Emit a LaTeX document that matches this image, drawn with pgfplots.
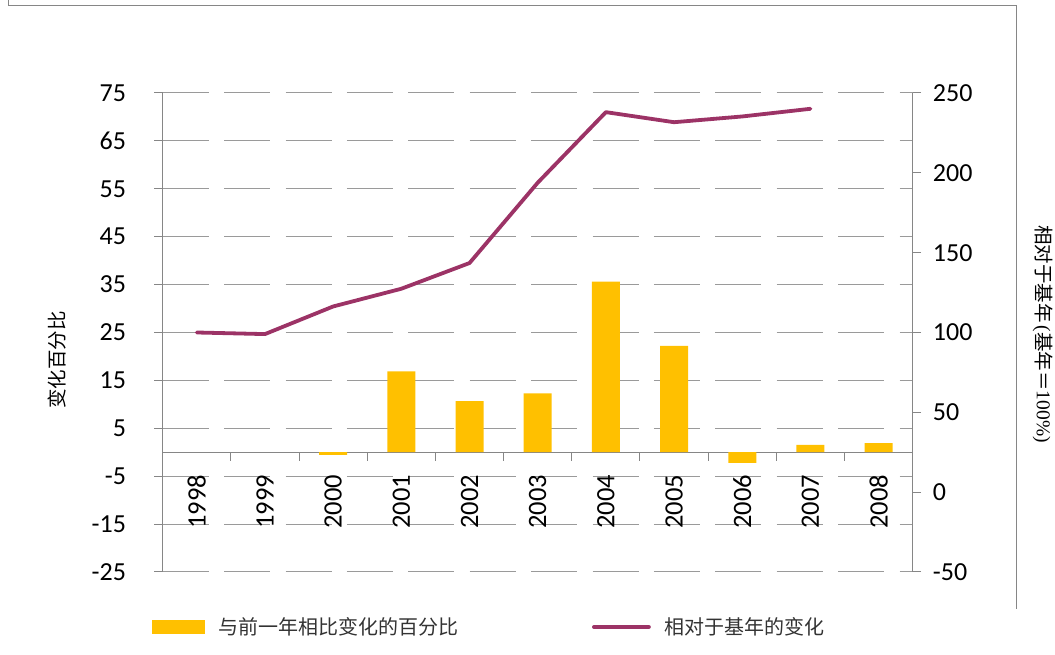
\documentclass[border=0pt]{standalone}
\usepackage{pgfplots}
\pgfplotsset{compat=1.18}
\usepackage{fontspec}
\setmainfont{Carlito}
\newfontfamily\cjk{Noto Sans CJK SC}
\newfontfamily\tnr{Liberation Serif}
\definecolor{barc}{HTML}{FFC000}
\definecolor{linec}{HTML}{9C3366}
\definecolor{axc}{HTML}{868686}
\definecolor{gridc}{HTML}{9A9A9A}
\begin{document}
\begin{tikzpicture}[x=1pt,y=1pt]
\path[use as bounding box] (0,0) rectangle (1055,655);
\draw[axc, line width=1pt] (8.3,655) -- (8.3,649.3) -- (1016.7,649.3) -- (1016.7,46);
% left axis: bars
\begin{axis}[
  at={(162.7pt,83pt)}, anchor=south west,
  scale only axis, width=750pt, height=479pt,
  xmin=-0.5, xmax=10.5, ymin=-25, ymax=75,
  axis y line*=left, axis x line*=middle,
  axis line style={axc, line width=1pt, -},
  hide obscured x ticks=false,
  xtick={-0.5,0.5,...,10.5},
  x tick label as interval,
  xticklabels={1998,1999,2000,2001,2002,2003,2004,2005,2006,2007,2008},
  xticklabel style={yshift=-14pt, rotate=90, anchor=east, inner sep=0pt, font=\fontsize{26.5}{30}\selectfont},
  ytick={-25,-15,-5,5,15,25,35,45,55,65,75},
  yticklabel style={anchor=east, inner sep=0pt, xshift=-28pt, font=\fontsize{26}{30}\selectfont},
  tick align=outside, major tick length=8.5pt,
  tick style={axc, line width=1pt},
  /pgf/number format/assume math mode=true,
  ymajorgrids,
  grid style={gridc, line width=1pt, dash pattern=on 46pt off 15.4pt},
  legend style={at={(axis description cs:-0.01427,-0.1148)}, anchor=west,
    draw=none, fill=none, inner sep=0pt, outer sep=0pt,
    nodes={inner sep=0pt, outer sep=0pt},
    font=\cjk\fontsize{20}{24}\selectfont, text=black!80},
  legend image code/.code={\fill[#1] (0pt,-6.7pt) rectangle (53pt,6.7pt); \path (67pt,0pt);},
]
\addplot[ybar, bar width=28pt, bar shift=0pt, fill=barc, draw=none] coordinates {
 (2,-0.57) (3,16.9) (4,10.65) (5,12.3) (6,35.6) (7,22.2) (8,-2.2) (9,1.55) (10,1.9)};
\addlegendentry{与前一年相比变化的百分比}
\end{axis}
% right axis: line
\begin{axis}[
  at={(162.7pt,83pt)}, anchor=south west,
  scale only axis, width=750pt, height=479pt,
  xmin=-0.5, xmax=10.5, ymin=-50, ymax=250,
  axis y line*=right, axis x line=none,
  axis line style={axc, line width=1pt, -},
  ytick={-50,0,50,100,150,200,250},
  yticklabel style={anchor=west, inner sep=0pt, xshift=11.5pt, font=\fontsize{26}{30}\selectfont},
  tick align=outside, major tick length=8.5pt,
  tick style={axc, line width=1pt},
  /pgf/number format/assume math mode=true,
  legend style={at={(axis description cs:0.5724,-0.1148)}, anchor=west,
    draw=none, fill=none, inner sep=0pt, outer sep=0pt,
    nodes={inner sep=0pt, outer sep=0pt},
    font=\cjk\fontsize{20}{24}\selectfont, text=black!80},
  legend image code/.code={\draw[#1] (0pt,0pt) -- (55pt,0pt); \path (69pt,0pt);},
]
\addplot[linec, line width=3.8pt, line join=round, line cap=round] coordinates {
 (0,100) (1,99) (2,116.3) (3,127.4) (4,143.5) (5,193.8) (6,238) (7,231.7) (8,235.3) (9,240.1)};
\addlegendentry{相对于基年的变化}
\end{axis}
\node[rotate=90, inner sep=0pt, font=\cjk\fontsize{19.5}{23}\selectfont] at (57.5,295) {变化百分比};
\node[rotate=-90, inner sep=0pt, font=\fontsize{19.5}{24}\selectfont] at (1043,321)
 {{\cjk 相对于基年}\,{\tnr (}{\cjk 基年＝}{\tnr 100\%)}};
\end{tikzpicture}
\end{document}
